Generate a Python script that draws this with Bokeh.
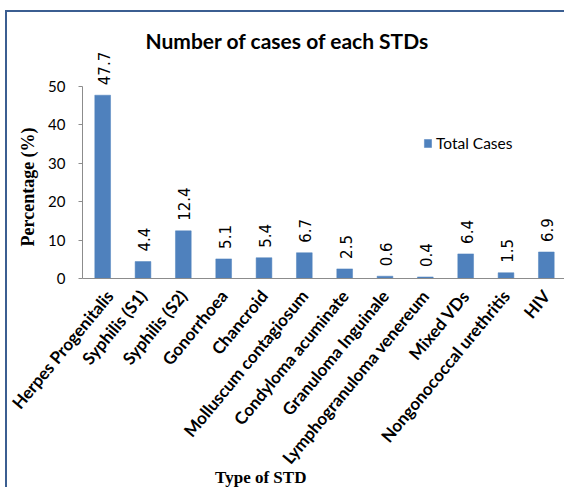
import math
from bokeh.plotting import figure
from bokeh.models import (ColumnDataSource, FactorRange, Range1d, FixedTicker,
                          LabelSet, Legend, LegendItem, Title)
from bokeh.core.properties import value
from bokeh.embed import file_html
from bokeh.resources import INLINE

# ---- data ----
categories = ["Herpes Progenitalis", "Syphilis (S1)", "Syphilis (S2)", "Gonorrhoea",
              "Chancroid", "Molluscum contagiosum", "Condyloma acuminate",
              "Granuloma Inguinale", "Lymphogranuloma venereum", "Mixed VDs",
              "Nongonococcal urethritis", "HIV"]
total_cases = [47.7, 4.4, 12.4, 5.1, 5.4, 6.7, 2.5, 0.6, 0.4, 6.4, 1.5, 6.9]
y_ticks = [0, 10, 20, 30, 40, 50]

title_text = "Number of cases of each STDs"
x_title = "Type of STD"
y_title = "Percentage (%)"
series_name = "Total Cases"

# ---- layout (page pixels) ----
OX, OY = 7, 12          # canvas origin on the page (after margin + border)
W, H = 566 - OX, 489 - OY
FL, FB = 80, 279        # frame left / frame bottom (page pixels)
FT = 52                 # frame top
Y_END = (FB - FT) / ((FB - 86) / 50.0)   # keeps 50 at y=86

src = ColumnDataSource(dict(cat=categories, val=total_cases,
                            lbl=[f"{v:.1f}" for v in total_cases]))

p = figure(width=W, height=H, x_range=FactorRange(*categories, range_padding=0),
           y_range=Range1d(0, Y_END), output_backend="svg", toolbar_location=None,
           min_border_left=FL - OX, min_border_top=FT - OY,
           min_border_right=0, min_border_bottom=(OY + H) - FB)
p.styles = {"margin-left": "5px", "margin-top": "10px",
            "border-top": "2px solid #3B5E91", "border-left": "2px solid #3B5E91"}
p.outline_line_color = None
p.xgrid.grid_line_color = None
p.ygrid.grid_line_color = None
p.background_fill_color = "white"
p.border_fill_color = "white"

# main title
p.title.text = title_text
p.title.align = "left"
p.title.offset = 143 - FL
p.title.standoff = 0
p.title.text_font = "Lato"
p.title.text_font_style = "bold"
p.title.text_font_size = "21px"
p.title.text_color = "black"

r = p.vbar(x="cat", top="val", width=0.39, source=src,
           fill_color="#4F81BD", line_color="#4F81BD", line_width=0.5)

# data labels
labels = LabelSet(x="cat", y="val", text="lbl", source=src, angle=math.pi / 2,
                  text_align="left", text_baseline="middle", y_offset=10, x_offset=1,
                  text_font=value("DejaVu Sans"), text_font_size="15px",
                  text_color="black")
p.add_layout(labels)

# axes
p.yaxis.ticker = FixedTicker(ticks=y_ticks)
p.yaxis.bounds = (0, 50)
p.yaxis.axis_line_color = "#8c8c8c"
p.yaxis.major_tick_line_color = "#8c8c8c"
p.yaxis.major_tick_out = 4
p.yaxis.major_tick_in = 0
p.yaxis.minor_tick_line_color = None
p.yaxis.major_label_standoff = 13
p.yaxis.major_label_text_font = "Lato"
p.yaxis.major_label_text_font_size = "15px"
p.yaxis.major_label_text_color = "black"

# y-axis title as a side title, so it can sit beside the 0-50 span
yt = Title(text=y_title, align="left", offset=FB - 247, standoff=16,
           text_font="Liberation Serif", text_font_style="bold",
           text_font_size="18px", text_color="black")
p.add_layout(yt, "left")

p.xaxis.axis_line_color = "#8c8c8c"
p.xaxis.major_tick_line_color = None
p.xaxis.major_tick_out = 0
p.xaxis.major_label_orientation = 0.88
p.xaxis.major_label_standoff = 14
p.xaxis.major_label_text_font = "Lato"
p.xaxis.major_label_text_font_style = "bold"
p.xaxis.major_label_text_font_size = "17px"
p.xaxis.major_label_text_color = "black"

# x-axis title, tucked under the rotated labels; trailing no-break spaces shift it left
p.xaxis.axis_label = x_title + "\u00a0" * 30
p.xaxis.axis_label_standoff = -10
p.xaxis.axis_label_text_font = "Liberation Serif"
p.xaxis.axis_label_text_font_style = "bold"
p.xaxis.axis_label_text_font_size = "17px"
p.xaxis.axis_label_text_color = "black"

# legend
legend = Legend(items=[LegendItem(label=series_name, renderers=[r])],
                location=(341, 126), orientation="vertical",
                glyph_width=9, glyph_height=10, label_standoff=4, padding=0, margin=0,
                spacing=0, border_line_color=None, background_fill_alpha=0,
                label_text_font="Lato", label_text_font_size="15.5px",
                label_text_color="black", label_height=10)
p.add_layout(legend)

open("out.html", "w").write(file_html(p, INLINE))
